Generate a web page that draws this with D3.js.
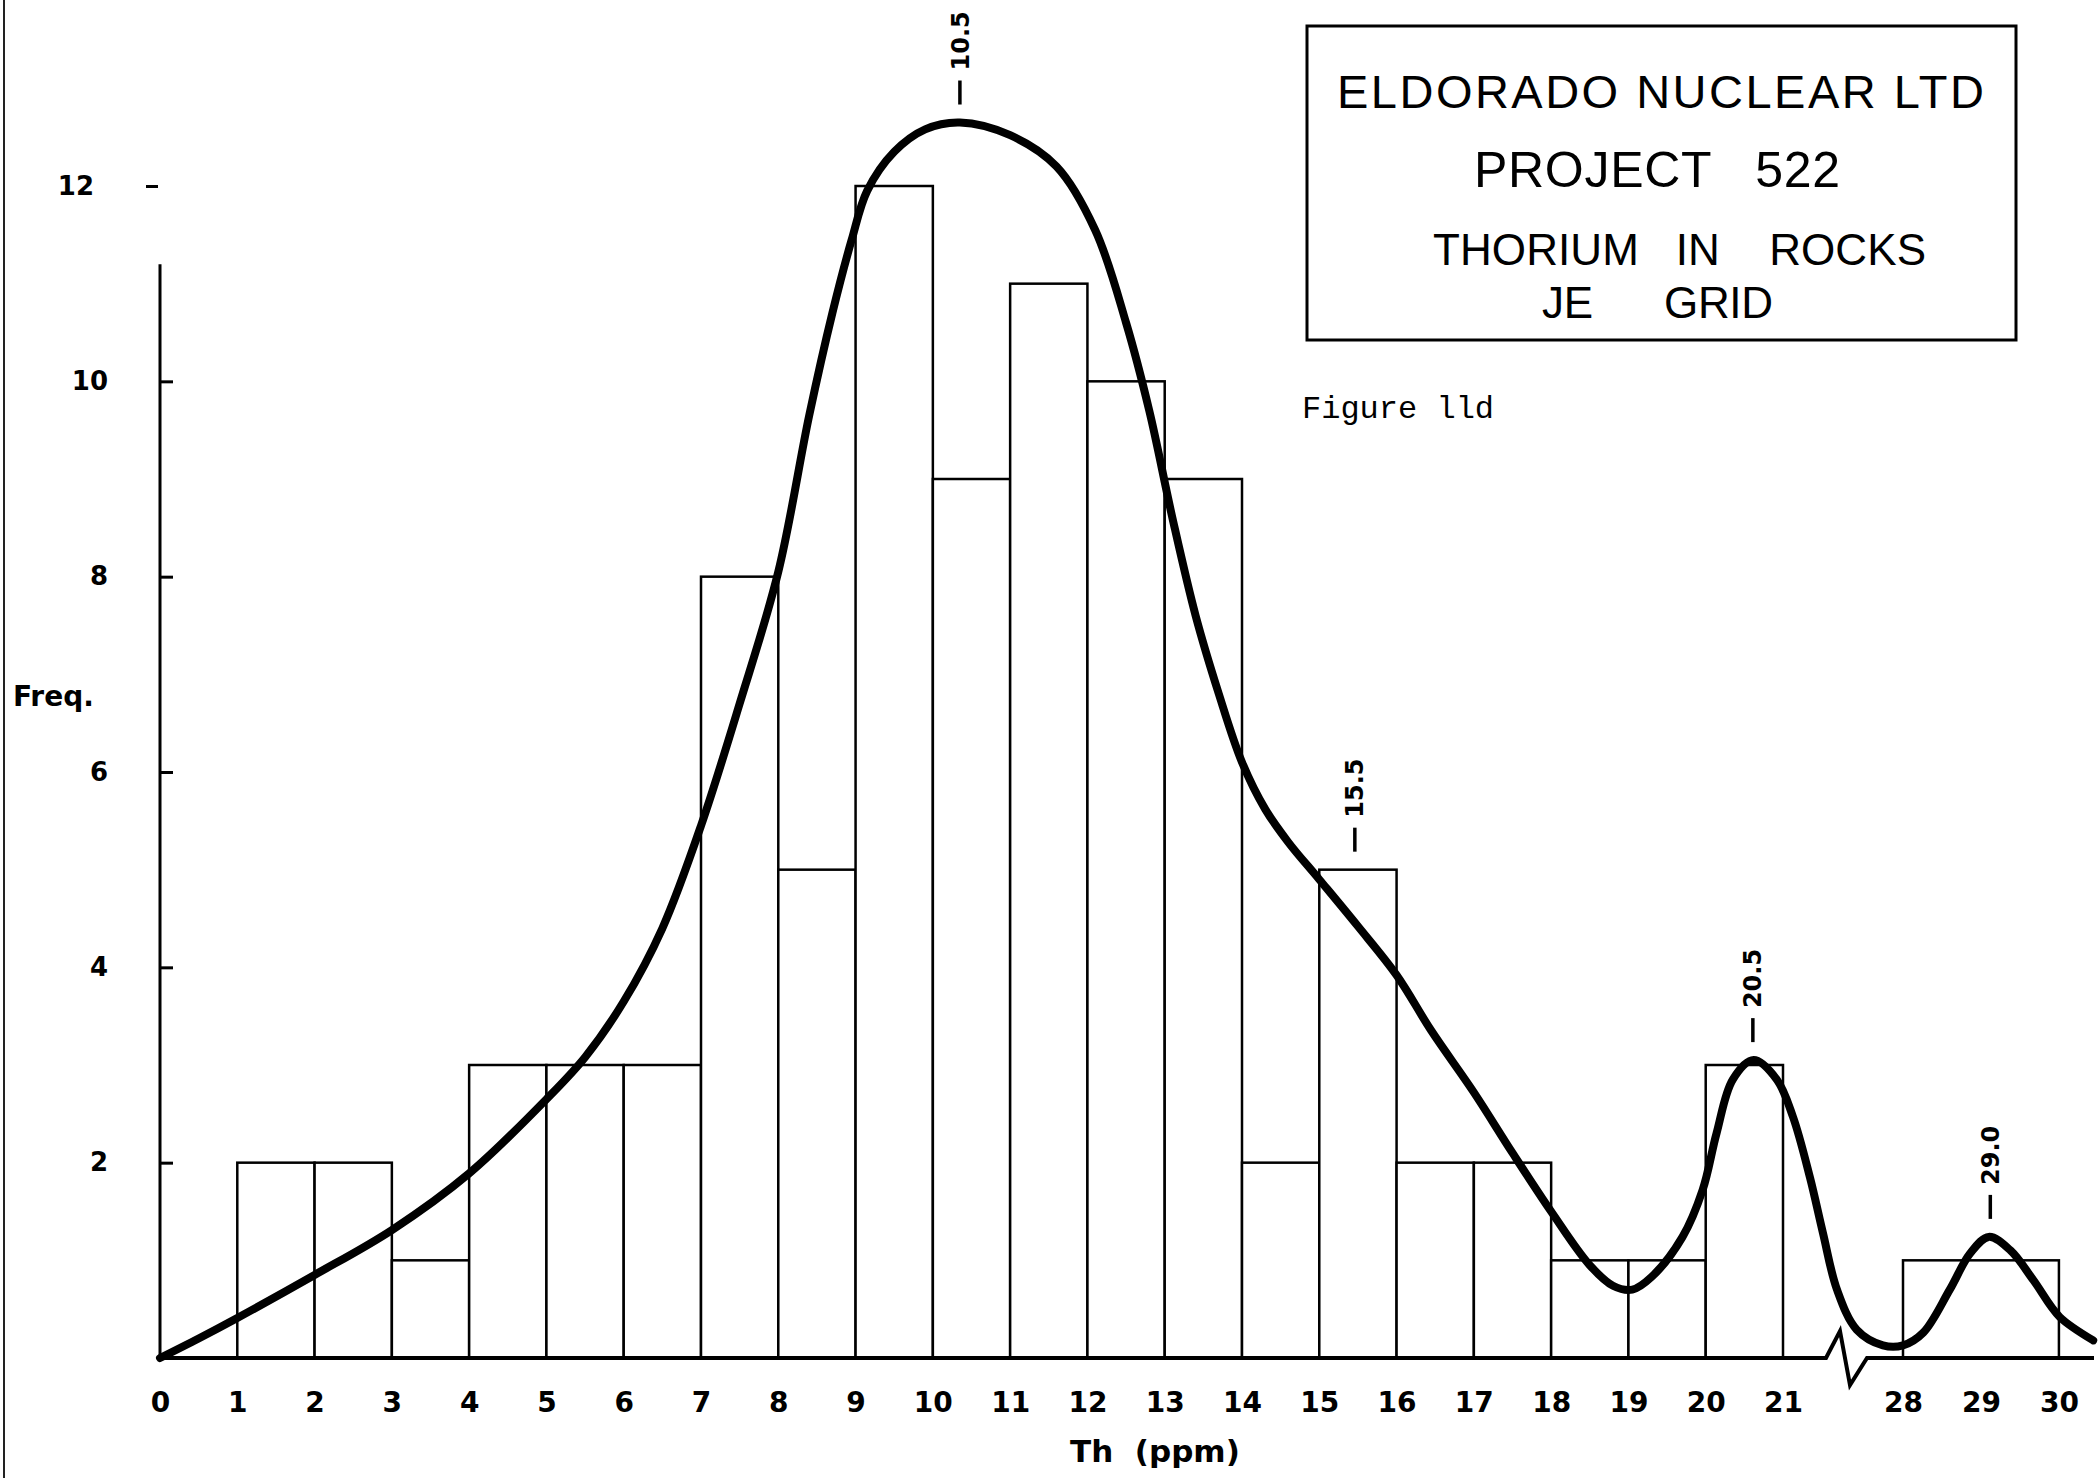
<!DOCTYPE html>
<html>
<head>
<meta charset="utf-8">
<script src="https://cdnjs.cloudflare.com/ajax/libs/d3/7.8.5/d3.min.js"></script>
<style>
  body { margin: 0; background: #fff; }
  text { font-family: "DejaVu Sans", sans-serif; font-weight: bold; fill: #000; }
  .box-text { font-family: "Liberation Sans", Arial, sans-serif; font-weight: normal; white-space: pre; }
  .fig-text { font-family: "Liberation Mono", "Courier New", monospace; font-weight: normal; }
  .axis-title { white-space: pre; }
</style>
</head>
<body>
<div id="main"></div>
<script>
//Width and height
var w = 2098;
var h = 1478;

// histogram bins (Th ppm) and their frequencies
var binStart = [1, 2, 3, 4, 5, 6, 7, 8, 9, 10, 11, 12, 13, 14, 15, 16, 17, 18, 19, 20, 28];
var binEnd   = [2, 3, 4, 5, 6, 7, 8, 9, 10, 11, 12, 13, 14, 15, 16, 17, 18, 19, 20, 21, 30];
var freq     = [2, 2, 1, 3, 3, 3, 8, 5, 12, 9, 11, 10, 9, 2, 5, 2, 2, 1, 1, 3, 1];

// hand drawn smoothed curve
var curveX = [0, 0.5, 1, 2, 3, 4, 5, 5.5, 6, 6.5, 7, 7.5, 8, 8.4, 8.7, 8.95, 9.15, 9.5, 9.9, 10.35,
              11, 11.6, 12.1, 12.5, 12.8, 13.1, 13.4, 13.7, 14.0, 14.3, 14.6, 15.0, 15.5,
              16.0, 16.45, 17, 17.5, 18, 18.5, 18.8, 19.05, 19.3, 19.7, 19.96, 20.14, 20.35,
              20.62, 20.92, 21.58, 22.57, 23.33, 24.15, 25.3, 26.83, 28.0, 28.26, 28.6, 28.86,
              29.1, 29.38, 29.67, 30.01, 30.44];
var curveY = [0, 0.2, 0.41, 0.85, 1.31, 1.89, 2.65, 3.08, 3.65, 4.4, 5.45, 6.7, 8.05, 9.65, 10.7, 11.45, 11.95, 12.35, 12.58, 12.65,
              12.52, 12.2, 11.55, 10.6, 9.7, 8.6, 7.6, 6.8, 6.1, 5.62, 5.28, 4.9, 4.42,
              3.92, 3.35, 2.72, 2.1, 1.5, 0.95, 0.74, 0.7, 0.83, 1.24, 1.72, 2.3, 2.85,
              3.05, 2.85, 2.47, 1.85, 1.28, 0.7, 0.29, 0.13, 0.13, 0.26, 0.7, 1.07,
              1.24, 1.1, 0.8, 0.42, 0.18];

// peak markers
var peakText = ["10.5", "15.5", "20.5", "29.0"];
var peakX = [10.35, 15.46, 20.61, 29.12];
var peakY = [12.65, 5.0, 3.05, 1.24];

// tick labels
var xTicks = [0, 1, 2, 3, 4, 5, 6, 7, 8, 9, 10, 11, 12, 13, 14, 15, 16, 17, 18, 19, 20, 21, 28, 29, 30];
var yTicks = [2, 4, 6, 8, 10, 12];

// title block
var titleLines = ["ELDORADO NUCLEAR LTD", "PROJECT   522", "THORIUM   IN    ROCKS", "JE      GRID"];
var figureLabel = "Figure lld";

// broken x axis: 21 -> 28 squeezed
var x = d3.scaleLinear()
  .domain([0, 21, 28, 30.45])
  .range([160, 1783, 1903, 2094]);

var y = d3.scaleLinear()
  .domain([0, 12])
  .range([1358, 186]);

var svg = d3.select("#main")
  .append("svg")
  .attr("width", w)
  .attr("height", h)
  .style("display", "block");

svg.append("rect")
  .attr("width", w)
  .attr("height", h)
  .attr("fill", "#fff");

// page edge on the left of the scan
svg.append("line")
  .attr("x1", 4).attr("x2", 4)
  .attr("y1", 0).attr("y2", h)
  .attr("stroke", "#222")
  .attr("stroke-width", 2);

// bars
var bins = freq.map(function(d, i) {
  return { x0: binStart[i], x1: binEnd[i], n: d };
});

svg.selectAll(".bar")
  .data(bins)
  .enter()
  .append("rect")
  .attr("class", "bar")
  .attr("x", function(d) { return x(d.x0); })
  .attr("y", function(d) { return y(d.n); })
  .attr("width", function(d) { return x(d.x1) - x(d.x0); })
  .attr("height", function(d) { return y(0) - y(d.n); })
  .attr("fill", "#fff")
  .attr("stroke", "#000")
  .attr("stroke-width", 2.5);

// y axis, ticks pointing inward
var yAxis = svg.append("g")
  .attr("transform", "translate(" + x(0) + ",0)")
  .call(d3.axisLeft(y).tickValues(yTicks).tickSizeInner(-13).tickSizeOuter(0).tickPadding(52));

yAxis.select(".domain").remove();
yAxis.selectAll(".tick line").attr("stroke", "#000").attr("stroke-width", 3);
yAxis.selectAll(".tick text")
  .attr("font-size", 26)
  .attr("font-family", "DejaVu Sans")
  .attr("font-weight", "bold");

// the 12 tick is a loose dash left of the axis, its label sits further out
var tick12 = yAxis.selectAll(".tick")
  .filter(function(d) { return d === 12; });
tick12.select("line")
  .attr("x1", -14)
  .attr("x2", -2);
tick12.select("text")
  .attr("x", -66);

svg.append("line")
  .attr("x1", x(0)).attr("x2", x(0))
  .attr("y1", y(0)).attr("y2", y(11.2))
  .attr("stroke", "#000")
  .attr("stroke-width", 3);

// x axis labels
var xAxis = svg.append("g")
  .attr("transform", "translate(0," + y(0) + ")")
  .call(d3.axisBottom(x).tickValues(xTicks).tickSize(0).tickPadding(34).tickFormat(d3.format("d")));

xAxis.select(".domain").remove();
xAxis.selectAll(".tick text")
  .attr("font-size", 28)
  .attr("font-family", "DejaVu Sans")
  .attr("font-weight", "bold");

// x axis line with the break symbol
var bx0 = x(21) + 43;
var bx1 = x(28) - 36;
var axisPts = [
  [x(0), y(0)], [bx0, y(0)], [bx0 + 14, y(0) - 27],
  [bx0 + 24, y(0) + 27], [bx1, y(0)], [x(30.45), y(0)]
];
svg.append("path")
  .attr("d", d3.line()(axisPts))
  .attr("fill", "none")
  .attr("stroke", "#000")
  .attr("stroke-width", 4)
  .attr("stroke-linejoin", "miter");

// smoothed frequency curve
var pts = curveX.map(function(d, i) { return [d, curveY[i]]; });
var line = d3.line()
  .x(function(d) { return x(d[0]); })
  .y(function(d) { return y(d[1]); })
  .curve(d3.curveCatmullRom.alpha(0.5));

svg.append("path")
  .datum(pts)
  .attr("d", line)
  .attr("fill", "none")
  .attr("stroke", "#000")
  .attr("stroke-width", 8)
  .attr("stroke-linecap", "round");

// peak markers: dash + rotated value
var peaks = svg.selectAll(".peak")
  .data(peakText)
  .enter()
  .append("g")
  .attr("class", "peak")
  .attr("transform", function(d, i) {
    return "translate(" + x(peakX[i]) + "," + (y(peakY[i]) - 18) + ")";
  });

peaks.append("line")
  .attr("x1", 0).attr("x2", 0)
  .attr("y1", 0).attr("y2", -24)
  .attr("stroke", "#000")
  .attr("stroke-width", 3.5);

peaks.append("text")
  .attr("transform", "translate(0,-34) rotate(-90)")
  .attr("dy", "0.36em")
  .attr("font-size", 24)
  .style("text-anchor", "start")
  .text(function(d) { return d; });

// axis titles
svg.append("text")
  .attr("x", 13)
  .attr("y", 706)
  .attr("font-size", 28)
  .text("Freq.");

svg.append("text")
  .attr("class", "axis-title")
  .attr("x", 1070)
  .attr("y", 1462)
  .attr("font-size", 31)
  .text("Th  (ppm)");

// title box
svg.append("rect")
  .attr("x", 1307)
  .attr("y", 26)
  .attr("width", 709)
  .attr("height", 314)
  .attr("fill", "none")
  .attr("stroke", "#000")
  .attr("stroke-width", 3);

var boxX = [1337, 1474, 1433, 1542];
var boxY = [108, 187, 265, 318];
var boxSize = [47, 50, 44, 44];
var boxLen = [647, 366, 493, 231];

svg.selectAll(".box-text")
  .data(titleLines)
  .enter()
  .append("text")
  .attr("class", "box-text")
  .attr("x", function(d, i) { return boxX[i]; })
  .attr("y", function(d, i) { return boxY[i]; })
  .attr("font-size", function(d, i) { return boxSize[i]; })
  .attr("textLength", function(d, i) { return boxLen[i]; })
  .attr("lengthAdjust", "spacing")
  .text(function(d) { return d; });

svg.append("text")
  .attr("class", "fig-text")
  .attr("x", 1302)
  .attr("y", 418)
  .attr("font-size", 32)
  .text(figureLabel);
</script>
</body>
</html>
